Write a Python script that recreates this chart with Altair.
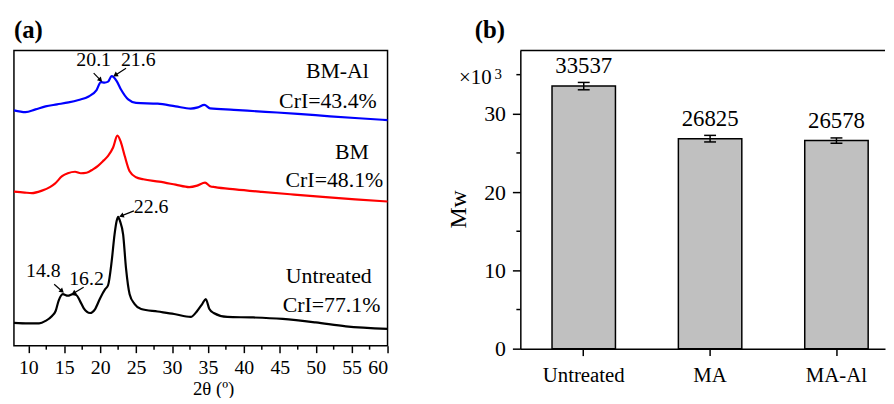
import math
import altair as alt
import pandas as pd

FONT = "Liberation Serif"

# ---------------- Panel (a): XRD patterns (arbitrary intensity, stacked) ----------------
theta_untreated = [8, 10, 11.5, 12.4, 13.3, 13.8, 14.2, 14.8, 15.5, 16.2, 16.7, 17.2, 17.7, 18.6, 19.3, 20,
                   20.7, 21.1, 21.6, 22, 22.3, 22.5, 22.75, 23.2, 23.6, 24.1, 24.8, 25.7, 28, 30.3, 32.6, 33.5,
                   34.2, 34.7, 35.2, 35.8, 37.7, 41.3, 45.4, 50, 54.2, 60]
int_untreated = [23, 22.5, 22.5, 25, 30, 35, 45, 52, 50.5, 52, 51, 45, 38, 33, 37, 48,
                 57, 61, 85, 112, 126, 130, 126, 112, 78, 52, 42, 37, 34.5, 32, 29, 35,
                 42, 47, 37, 33, 29, 28.5, 27, 23.5, 19.5, 17]

theta_bm = [8, 9.5, 10.5, 11.9, 13, 13.7, 14.7, 15.5, 16.5, 17.3, 18.1, 19, 19.7, 20.5, 21.1, 21.8, 22.4,
            22.9, 23.4, 24.1, 25, 26, 28.2, 30.5, 32.4, 33.5, 34.6, 35.3, 36, 38.8, 42.5, 47, 51.4, 55.5, 60]
int_bm = [155.5, 154.5, 154, 156.5, 160, 163.5, 171, 174, 175.5, 174, 174.5, 178, 181.5, 187, 191.5, 200, 212,
          205, 192, 176, 170, 168, 165.5, 162.5, 160, 161.5, 164.5, 161, 160, 157.7, 155.2, 152.5, 150, 147.7, 145.5]

theta_bmal = [8, 9.6, 11, 12.4, 14, 15.6, 17, 18.4, 19.5, 20.1, 20.6, 21.1, 21.6, 22.3, 22.9, 23.9, 25, 28,
              30.5, 32.6, 33.6, 34.5, 35.3, 38.6, 43, 47.5, 52, 56, 60]
int_bmal = [237.5, 235.7, 238.5, 241.5, 243.5, 245.5, 248, 251.5, 258, 266, 265.5, 266.5, 272, 267, 258.5, 248.5,
            245, 244.2, 241.5, 239.3, 240.5, 243, 239.5, 238, 236, 234, 231.5, 229.5, 227.7]

series_names = ["Untreated", "BM", "BM-Al"]
series_colors = ["#000000", "#ff0000", "#0000ff"]

# peak annotations: label text, label position, arrow start, arrow end
peak_text = ["20.1", "21.6", "22.6", "14.8", "16.2"]
peak_tx = [19.1, 25.3, 27.1, 12.1, 18.1]
peak_ty = [288, 288, 140, 75, 67]
arrow_x1 = [19.1, 23.6, 24.7, 13.6, 17.7]
arrow_y1 = [275, 280, 136, 62, 59]
arrow_x2 = [20.05, 22.1, 22.95, 14.7, 16.3]
arrow_y2 = [268, 273, 131, 55, 53]

# sample labels on the right
side_text = ["BM-Al", "CrI=43.4%", "BM", "CrI=48.1%", "Untreated", "CrI=77.1%"]
side_x = [57.4, 58.5, 57.4, 59.4, 57.8, 59.0]
side_y = [277, 247, 195, 167, 70, 41]

x_major = [10, 15, 20, 25, 30, 35, 40, 45, 50, 55, 60]
x_minor = [12.5, 17.5, 22.5, 27.5, 32.5, 37.5, 42.5, 47.5, 52.5, 57.5]

# ---------------- Panel (b): molecular weight ----------------
cats = ["Untreated", "MA", "MA-Al"]
mw = [33.537, 26.825, 26.578]          # x10^3
mw_err = [0.47, 0.42, 0.34]
mw_labels = ["33537", "26825", "26578"]
y_major = [0, 10, 20, 30]
y_minor = [5, 15, 25, 35]

# ---------------- build panel (a) ----------------
WA, HA = 377, 298
rows = []
for name, xs, ys in [("Untreated", theta_untreated, int_untreated),
                     ("BM", theta_bm, int_bm),
                     ("BM-Al", theta_bmal, int_bmal)]:
    for i, (t, v) in enumerate(zip(xs, ys)):
        rows.append({"series": name, "theta": t, "inten": v, "order": i})
curves = pd.DataFrame(rows)

xs_a = alt.Scale(domain=[8, 60], nice=False, zero=False)
ys_a = alt.Scale(domain=[0, HA], nice=False, zero=True)

AX_A = alt.Axis(values=x_major, tickSize=7, labelPadding=5, domain=False, grid=False,
                labelOverlap=False, labelFont=FONT, labelFontSize=20, labelColor="black",
                title="2θ (º)", titleFont=FONT, titleFontSize=19, titleColor="black",
                titleFontWeight="normal", titleX=201, titleY=43, titleBaseline="middle")


def xa(field):
    return alt.X(field, scale=xs_a, axis=AX_A)


def ya(field):
    return alt.Y(field, scale=ys_a, axis=None)


lines = alt.Chart(curves).mark_line(strokeWidth=2.2, interpolate="monotone").encode(
    x=xa("theta:Q"),
    y=ya("inten:Q"),
    color=alt.Color("series:N", scale=alt.Scale(domain=series_names, range=series_colors), legend=None),
    order="order:Q",
)

minor_a = alt.Chart(pd.DataFrame({"v": x_minor})).mark_rule(color="black", strokeWidth=1.5).encode(
    x=xa("v:Q"), y=alt.value(HA), y2=alt.value(HA + 4))

peaks = pd.DataFrame({"t": peak_text, "x": peak_tx, "y": peak_ty})
peak_labels = alt.Chart(peaks).mark_text(fontSize=20, baseline="middle", align="center").encode(
    x=xa("x:Q"), y=ya("y:Q"), text="t:N")

px_deg = WA / 52.0
angles = [(math.degrees(math.atan2((x2 - x1) * px_deg, (y2 - y1)))) % 360
          for x1, y1, x2, y2 in zip(arrow_x1, arrow_y1, arrow_x2, arrow_y2)]
arr = pd.DataFrame({"x1": arrow_x1, "y1": arrow_y1, "x2": arrow_x2, "y2": arrow_y2, "ang": angles})
arrow_lines = alt.Chart(arr).mark_rule(color="black", strokeWidth=1.2).encode(
    x=xa("x1:Q"), y=ya("y1:Q"), x2="x2:Q", y2="y2:Q")
arrow_heads = alt.Chart(arr).mark_point(shape="triangle-up", filled=True, color="black", size=30, opacity=1).encode(
    x=xa("x2:Q"), y=ya("y2:Q"), angle=alt.Angle("ang:Q", scale=None))

side = pd.DataFrame({"t": side_text, "x": side_x, "y": side_y})
side_labels = alt.Chart(side).mark_text(fontSize=22, baseline="middle", align="right").encode(
    x=xa("x:Q"), y=ya("y:Q"), text="t:N")

tag_a = alt.Chart(pd.DataFrame({"t": ["(a)"]})).mark_text(
    fontSize=25, fontWeight="bold", align="left", baseline="middle").encode(
    x=alt.value(0), y=alt.value(-21), text="t:N")

panel_a = alt.layer(lines, minor_a, arrow_lines, arrow_heads, peak_labels, side_labels, tag_a).properties(
    width=WA, height=HA, view=alt.ViewBackground(stroke="black", strokeWidth=1.5))

# ---------------- build panel (b) ----------------
WB, HB = 368, 301
bdf = pd.DataFrame({"cat": cats, "mw": mw, "lo": [m - e for m, e in zip(mw, mw_err)],
                    "hi": [m + e for m, e in zip(mw, mw_err)], "lab": mw_labels})
xs_b = alt.Scale(domain=cats, paddingInner=0.498, paddingOuter=0.192, align=0.653)
ys_b = alt.Scale(domain=[0, 38.1], nice=False, zero=True)

AX_BX = alt.Axis(title=None, labelAngle=0, labelFont=FONT, labelFontSize=21, labelColor="black",
                 tickSize=7, labelPadding=9, domainWidth=1.5)
AX_BY = alt.Axis(values=y_major, tickSize=8, labelPadding=7, labelFont=FONT, labelFontSize=22,
                 labelColor="black", grid=False, title="Mw", titleFont=FONT, titleFontSize=24,
                 titleColor="black", titleFontWeight="normal",
                 titleX=-62, titleY=160, titleBaseline="middle")


def xb(field="cat:N"):
    return alt.X(field, sort=cats, scale=xs_b, axis=AX_BX)


def yb(field):
    return alt.Y(field, scale=ys_b, axis=AX_BY)


bars = alt.Chart(bdf).mark_bar(fill="#c0c0c0", stroke="black", strokeWidth=1.5).encode(
    x=xb(), y=yb("mw:Q"))
err_rule = alt.Chart(bdf).mark_rule(color="black", strokeWidth=1.5).encode(
    x=xb(), y=yb("lo:Q"), y2="hi:Q")
cap_lo = alt.Chart(bdf).mark_tick(color="black", size=12, thickness=1.5, opacity=1).encode(
    x=xb(), y=yb("lo:Q"))
cap_hi = alt.Chart(bdf).mark_tick(color="black", size=12, thickness=1.5, opacity=1).encode(
    x=xb(), y=yb("hi:Q"))
val_labels = alt.Chart(bdf).mark_text(fontSize=23, dy=-20, baseline="middle").encode(
    x=xb(), y=yb("mw:Q"), text="lab:N")

minor_b = alt.Chart(pd.DataFrame({"v": y_minor})).mark_rule(color="black", strokeWidth=1.5).encode(
    y=yb("v:Q"), x=alt.value(-4), x2=alt.value(0))
top_line = alt.Chart(pd.DataFrame({"v": [0]})).mark_rule(color="black", strokeWidth=1.5).encode(
    x=alt.value(0), x2=alt.value(WB), y=alt.value(0))

exp_main = alt.Chart(pd.DataFrame({"t": ["×10"]})).mark_text(
    fontSize=21, align="right", baseline="middle", dy=3).encode(
    x=alt.value(-29), y=alt.Y(datum=35, scale=ys_b, axis=AX_BY), text="t:N")
exp_sup = alt.Chart(pd.DataFrame({"t": ["3"]})).mark_text(
    fontSize=15, align="left", baseline="middle", dy=-1).encode(
    x=alt.value(-26), y=alt.Y(datum=35, scale=ys_b, axis=AX_BY), text="t:N")

tag_b = alt.Chart(pd.DataFrame({"t": ["(b)"]})).mark_text(
    fontSize=25, fontWeight="bold", align="left", baseline="middle").encode(
    x=alt.value(-46), y=alt.value(-21), text="t:N")

panel_b = alt.layer(bars, err_rule, cap_lo, cap_hi, val_labels, minor_b, top_line,
                    exp_main, exp_sup, tag_b).properties(
    width=WB, height=HB, view=alt.ViewBackground(strokeWidth=0, stroke="transparent"))

chart = alt.hconcat(panel_a, panel_b, spacing=134, bounds="flush").properties(
    padding={"left": 0, "top": 7, "right": 0, "bottom": -3}
).configure_axis(
    labelFont=FONT, titleFont=FONT, labelColor="black", titleColor="black",
    tickColor="black", domainColor="black", domainWidth=1.5, tickWidth=1.5, grid=False
).configure_text(font=FONT, color="black").configure_view(stroke="transparent")

chart.save("out.html", embed_options={"renderer": "svg", "actions": False})
